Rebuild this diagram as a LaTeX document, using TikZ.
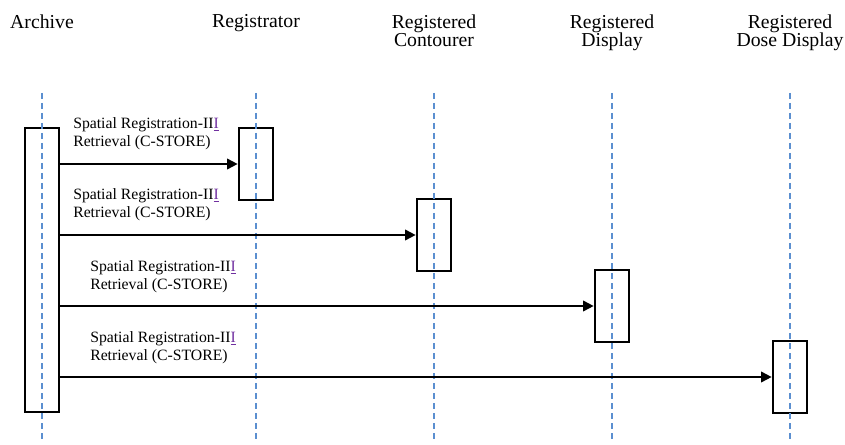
\documentclass[tikz,border=0pt]{standalone}
\usepackage{fontspec}
\setmainfont{Liberation Serif}
\usepackage{xcolor}
\usetikzlibrary{arrows.meta}
\definecolor{lifeblue}{RGB}{91,143,208}
\definecolor{linkpurple}{RGB}{112,48,160}
\newcommand{\srtext}{Spatial Registration-II\textcolor{linkpurple}{\underline{I}}\\Retrieval (C-STORE)}

\begin{document}
\begin{tikzpicture}[x=0.75pt,y=-0.75pt,
  lifeline/.style={lifeblue,line width=0.8pt,dash pattern=on 4.5pt off 3pt},
  actbox/.style={draw,fill=white,line width=1.5pt,minimum width=26pt,inner sep=0pt},
  msg/.style={line width=1.3pt,-{Triangle[length=8pt,width=8pt]}},
  head/.style={align=center,anchor=north,inner sep=0pt,font=\fontsize{14.8}{13.5}\selectfont},
  lbl/.style={align=left,anchor=west,inner sep=0pt,font=\fontsize{11.8}{13.5}\selectfont}]
  \useasboundingbox (0,0) rectangle (845,445);

  % activation boxes
  \node[actbox,minimum height=213pt] (arc) at (42,270) {};
  \node[actbox,minimum height=54pt] (reg) at (256,164) {};
  \node[actbox,minimum height=54pt] (con) at (434,235) {};
  \node[actbox,minimum height=54pt] (dis) at (612,306) {};
  \node[actbox,minimum height=54pt] (dos) at (790,377) {};

  % lifelines
  \foreach \x/\n in {42/arc,256/reg,434/con,612/dis,790/dos}{
    \coordinate (top-\n) at (\x,93);
    \coordinate (bot-\n) at (\x,440);
    \draw[lifeline] (top-\n) -- (bot-\n);
  }

  % headers
  \node[head] (h-arc) at (42,14.5) {Archive};
  \node[head] (h-reg) at (256,14.5) {Registrator};
  \node[head] (h-con) at (434,14.5) {Registered\\Contourer};
  \node[head] (h-dis) at (612,14.5) {Registered\\Display};
  \node[head] (h-dos) at (790,14.5) {Registered\\Dose Display};

  % messages
  \foreach \n in {reg,con,dis,dos}
    \draw[msg] (arc.east |- \n.west) -- (\n.west);
  \node[lbl] (m-reg) at (73,134) {\srtext};
  \node[lbl] (m-con) at (73,205) {\srtext};
  \node[lbl] (m-dis) at (90,277) {\srtext};
  \node[lbl] (m-dos) at (90,348) {\srtext};
\end{tikzpicture}
\end{document}
